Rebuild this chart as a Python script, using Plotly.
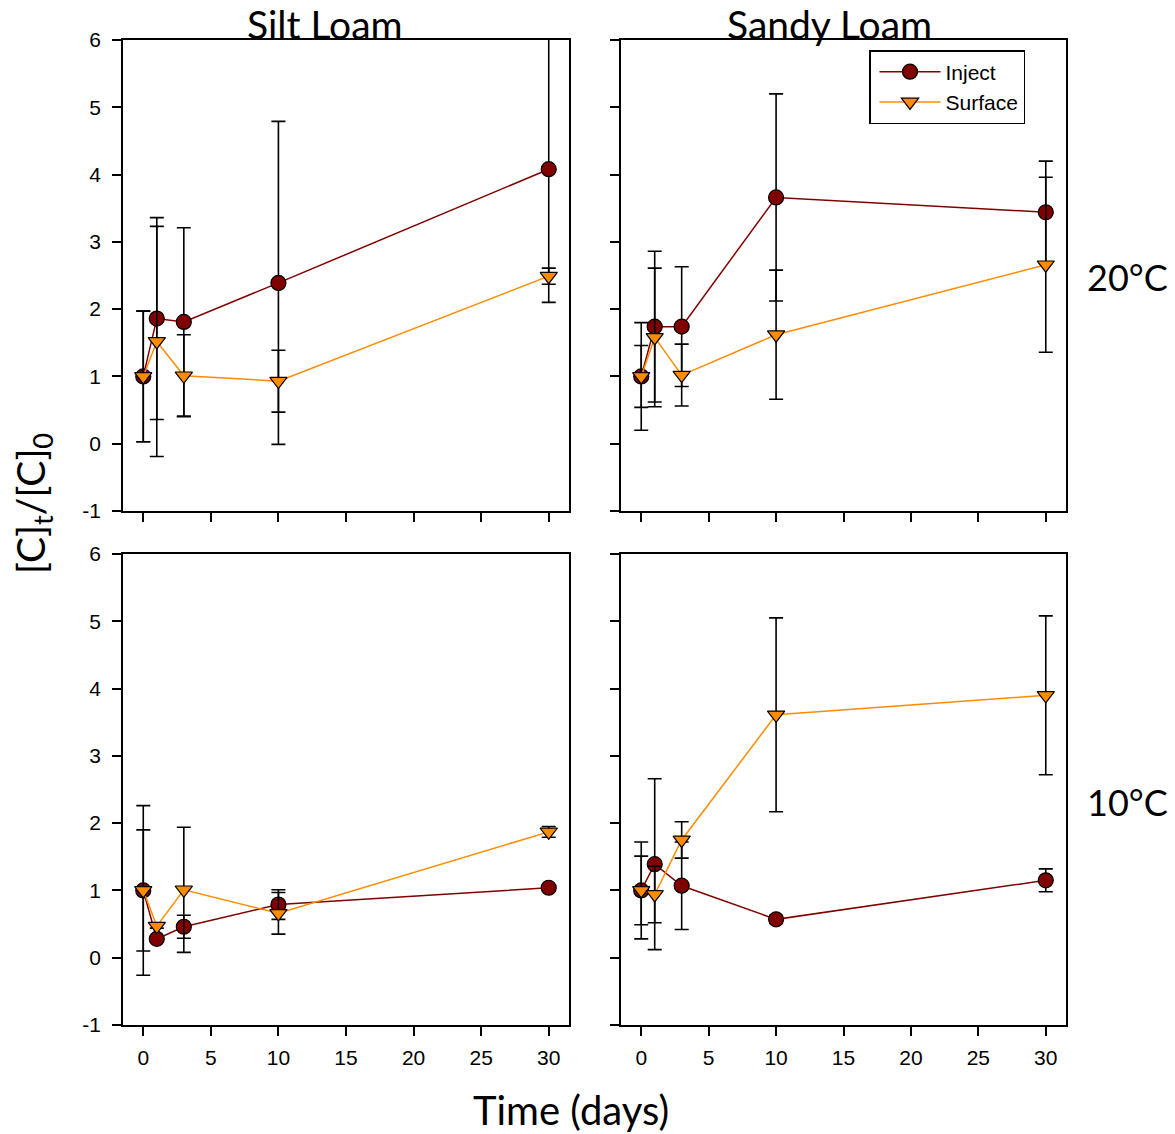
import plotly.graph_objects as go

days = [0, 1, 3, 10, 30]

# 20 °C
silt_20_inject = [1.00, 1.86, 1.81, 2.39, 4.08]
silt_20_inject_err = [0.97, 1.50, 1.40, 2.40, 1.98]
silt_20_surface = [1.00, 1.52, 1.01, 0.93, 2.49]
silt_20_surface_err = [0.97, 1.71, 0.61, 0.46, 0.12]

sandy_20_inject = [1.00, 1.74, 1.74, 3.66, 3.44]
sandy_20_inject_err = [0.80, 1.12, 0.89, 1.54, 0.76]
sandy_20_surface = [1.00, 1.58, 1.02, 1.62, 2.66]
sandy_20_surface_err = [0.46, 1.03, 0.46, 0.96, 1.30]

# 10 °C
silt_10_inject = [1.00, 0.28, 0.46, 0.79, 1.04]
silt_10_inject_err = [1.26, 0.04, 0.17, 0.22, 0.03]
silt_10_surface = [1.00, 0.47, 1.01, 0.66, 1.87]
silt_10_surface_err = [0.90, 0.03, 0.93, 0.31, 0.08]

sandy_10_inject = [1.00, 1.39, 1.07, 0.57, 1.15]
sandy_10_inject_err = [0.72, 1.27, 0.65, 0.06, 0.17]
sandy_10_surface = [1.00, 0.94, 1.75, 3.61, 3.90]
sandy_10_surface_err = [0.51, 0.42, 0.27, 1.44, 1.18]

column_titles = ["Silt Loam", "Sandy Loam"]
row_titles = ["20°C", "10°C"]
x_ticks = [0, 5, 10, 15, 20, 25, 30]
y_ticks = [-1, 0, 1, 2, 3, 4, 5, 6]
y_tick_labels = ["-1", "0", "1", "2", "3", "4", "5", "6"]

INJECT_COLOR = "#800000"
SURFACE_COLOR = "#FF8C00"

W, H = 1175, 1134
fig = go.Figure()

panels = [
    # (axis suffix, inject, inject_err, surface, surface_err, showlegend)
    ("", silt_20_inject, silt_20_inject_err, silt_20_surface, silt_20_surface_err, False),
    ("2", sandy_20_inject, sandy_20_inject_err, sandy_20_surface, sandy_20_surface_err, True),
    ("3", silt_10_inject, silt_10_inject_err, silt_10_surface, silt_10_surface_err, False),
    ("4", sandy_10_inject, sandy_10_inject_err, sandy_10_surface, sandy_10_surface_err, False),
]

for suf, inj, inj_e, sur, sur_e, sl in panels:
    fig.add_trace(go.Scatter(
        x=days, y=inj, name="Inject", mode="lines+markers",
        xaxis="x" + suf, yaxis="y" + suf, showlegend=sl,
        line=dict(color=INJECT_COLOR, width=1.5),
        marker=dict(symbol="circle", size=15, color=INJECT_COLOR,
                    line=dict(color="black", width=1.2)),
        error_y=dict(type="data", array=inj_e, color="black", thickness=1.6, width=7),
    ))
    fig.add_trace(go.Scatter(
        x=days, y=sur, name="Surface", mode="lines+markers",
        xaxis="x" + suf, yaxis="y" + suf, showlegend=sl,
        line=dict(color=SURFACE_COLOR, width=1.5),
        marker=dict(symbol="triangle-down", size=15, color=SURFACE_COLOR,
                    line=dict(color="black", width=1.2)),
        error_y=dict(type="data", array=sur_e, color="black", thickness=1.6, width=7),
    ))

def px_x(p):
    return p / W

def px_y(p):
    return 1 - p / H

xdom_left = [px_x(123), px_x(569)]
xdom_right = [px_x(621), px_x(1066)]
ydom_top = [px_y(511), px_y(40)]
ydom_bot = [px_y(1025), px_y(554)]

tickfont = dict(family="Liberation Sans, Arial", size=21, color="black")

def xax(domain, anchor, labels):
    return dict(domain=domain, anchor=anchor, range=[-1.5, 31.5], tickvals=x_ticks,
                ticks="outside", ticklen=9, tickwidth=1.5, tickcolor="black",
                showline=True, linecolor="black", linewidth=1.5, mirror=True,
                showgrid=False, zeroline=False, showticklabels=labels,
                tickfont=tickfont, automargin=False, ticklabelstandoff=4)

def yax(domain, anchor, labels):
    return dict(domain=domain, anchor=anchor, range=[-1, 6], tickvals=y_ticks,
                ticktext=y_tick_labels,
                ticks="outside", ticklen=9, tickwidth=1.5, tickcolor="black",
                showline=True, linecolor="black", linewidth=1.5, mirror=True,
                showgrid=False, zeroline=False, showticklabels=labels,
                tickfont=tickfont, automargin=False, ticklabelstandoff=7)

big = dict(family="Lato, Open Sans, sans-serif", size=39, color="black")
row_font = dict(family="Lato, Open Sans, sans-serif", size=36, color="black")

annotations = [
    dict(text=column_titles[0], x=px_x(325), y=px_y(24), xref="paper", yref="paper",
         showarrow=False, font=big, xanchor="center", yanchor="middle"),
    dict(text=column_titles[1], x=px_x(829), y=px_y(24), xref="paper", yref="paper",
         showarrow=False, font=big, xanchor="center", yanchor="middle"),
    dict(text=row_titles[0], x=px_x(1127), y=px_y(277), xref="paper", yref="paper",
         showarrow=False, font=row_font, xanchor="center", yanchor="middle"),
    dict(text=row_titles[1], x=px_x(1127), y=px_y(802), xref="paper", yref="paper",
         showarrow=False, font=row_font, xanchor="center", yanchor="middle"),
    dict(text="Time (days)", x=px_x(571), y=px_y(1110), xref="paper", yref="paper",
         showarrow=False, font=dict(family="Lato, Open Sans, sans-serif", size=40, color="black"),
         xanchor="center", yanchor="middle"),
    dict(text="[C]<sub>t</sub>/[C]<sub>0</sub>", x=px_x(33), y=px_y(504), xref="paper", yref="paper",
         showarrow=False, font=big, xanchor="center", yanchor="middle", textangle=-90),
]

fig.update_layout(
    width=W, height=H,
    margin=dict(l=0, r=0, t=0, b=0),
    paper_bgcolor="white", plot_bgcolor="white",
    xaxis=xax(xdom_left, "y", False),
    yaxis=yax(ydom_top, "x", True),
    xaxis2=xax(xdom_right, "y2", False),
    yaxis2=yax(ydom_top, "x2", False),
    xaxis3=xax(xdom_left, "y3", True),
    yaxis3=yax(ydom_bot, "x3", True),
    xaxis4=xax(xdom_right, "y4", True),
    yaxis4=yax(ydom_bot, "x4", False),
    annotations=annotations,
    showlegend=True,
    legend=dict(x=px_x(869), y=px_y(50), xanchor="left", yanchor="top",
                bordercolor="black", borderwidth=1.5, bgcolor="white",
                font=dict(family="Liberation Sans, Arial", size=21, color="black"),
                tracegroupgap=0, itemwidth=61, indentation=4),
)

fig.write_html("out.html")
